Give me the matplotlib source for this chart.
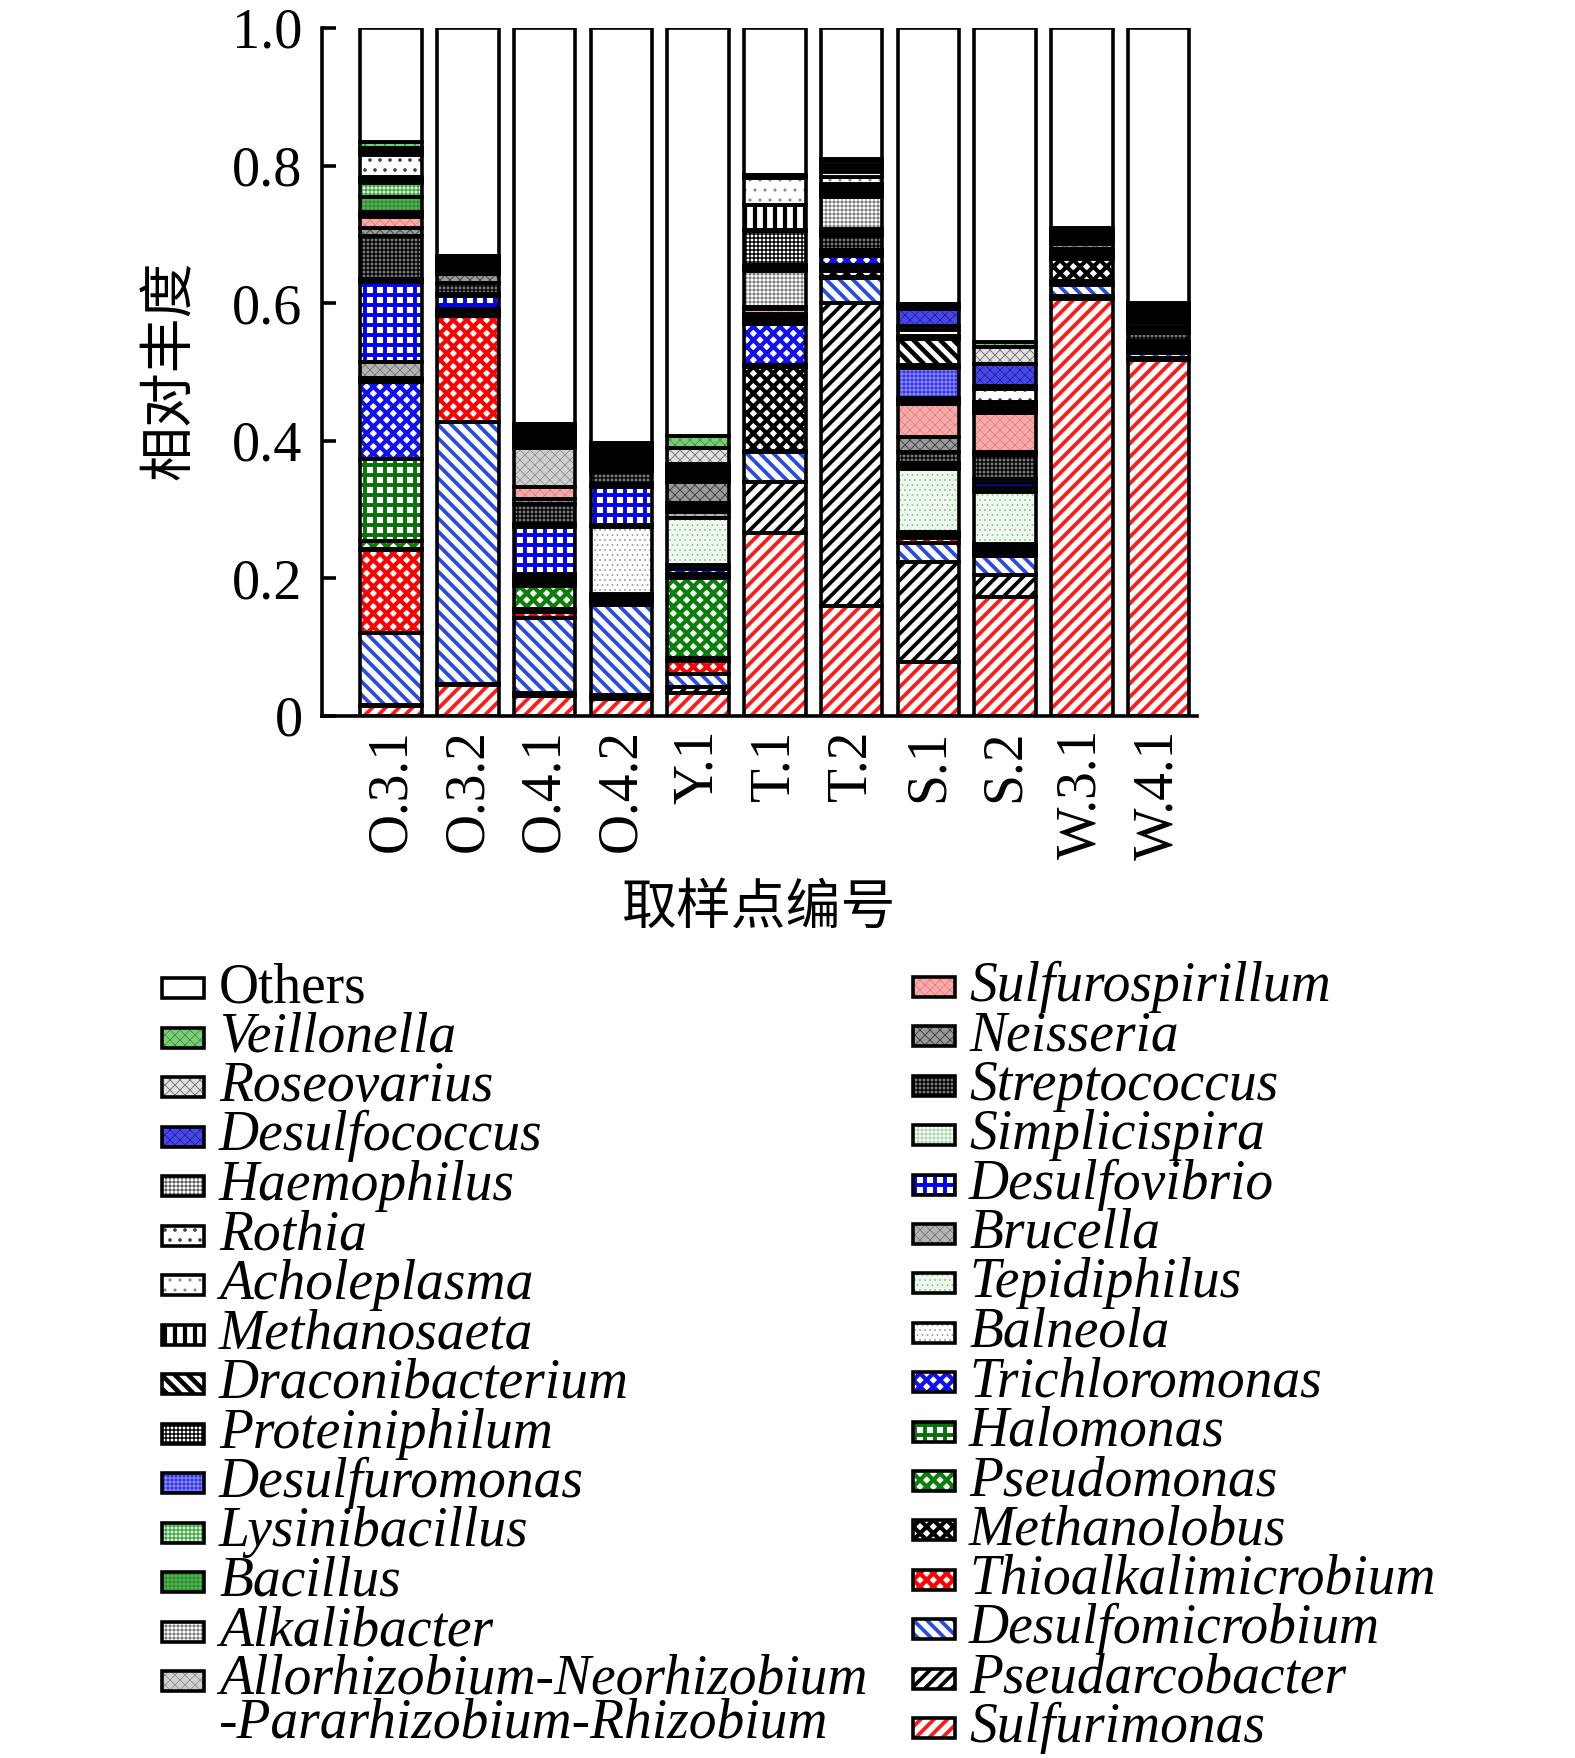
import numpy as np
import matplotlib
matplotlib.use("Agg")
import matplotlib.pyplot as plt
from matplotlib.patches import Rectangle

plt.rcParams['font.family'] = ['Liberation Serif', 'DejaVu Serif']

DPI = 120
S = 100.0 / DPI   # sizes below are written for 100 dpi, scaled here

samples = ["O.3.1", "O.3.2", "O.4.1", "O.4.2", "Y.1", "T.1", "T.2", "S.1", "S.2", "W.3.1", "W.4.1"]

# stacking order, bottom -> top
genera = ["Sulfurimonas", "Pseudarcobacter", "Desulfomicrobium", "Thioalkalimicrobium",
          "Methanolobus", "Pseudomonas", "Halomonas", "Trichloromonas", "Balneola",
          "Tepidiphilus", "Brucella", "Desulfovibrio", "Simplicispira", "Streptococcus",
          "Neisseria", "Sulfurospirillum", "Allorhizobium-Neorhizobium", "Alkalibacter",
          "Bacillus", "Lysinibacillus", "Desulfuromonas", "Proteiniphilum",
          "Draconibacterium", "Methanosaeta", "Acholeplasma", "Rothia", "Haemophilus",
          "Desulfococcus", "Roseovarius", "Veillonella", "Others"]

# relative abundance per sample, same order as genera
o31 = [0.014, 0.002, 0.104, 0.121, 0.002, 0.011, 0.120, 0.112, 0.003, 0.003, 0.022,
       0.117, 0.004, 0.063, 0.012, 0.016, 0.003, 0.003, 0.023, 0.020, 0.002, 0.002,
       0.001, 0.001, 0.002, 0.033, 0.003, 0.003, 0.003, 0.009, 0.166]
o32 = [0.045, 0.002, 0.381, 0.153, 0.002, 0.002, 0.002, 0.002, 0.001, 0.001, 0.001,
       0.018, 0.003, 0.016, 0.014, 0.002, 0.002, 0.002, 0.002, 0.002, 0.002, 0.002,
       0.001, 0.001, 0.001, 0.001, 0.001, 0.001, 0.002, 0.003, 0.332]
o41 = [0.029, 0.005, 0.109, 0.008, 0.004, 0.034, 0.004, 0.004, 0.003, 0.003, 0.003,
       0.069, 0.004, 0.029, 0.007, 0.018, 0.057, 0.002, 0.005, 0.003, 0.003, 0.003,
       0.003, 0.003, 0.003, 0.003, 0.002, 0.002, 0.002, 0.001, 0.575]
o42 = [0.025, 0.005, 0.132, 0.004, 0.003, 0.003, 0.003, 0.002, 0.097, 0.002, 0.002,
       0.055, 0.004, 0.017, 0.004, 0.003, 0.003, 0.003, 0.003, 0.003, 0.003, 0.002,
       0.002, 0.001, 0.004, 0.003, 0.003, 0.002, 0.002, 0.002, 0.603]
y1 = [0.034, 0.008, 0.019, 0.019, 0.005, 0.116, 0.006, 0.006, 0.007, 0.068, 0.009,
      0.004, 0.003, 0.006, 0.030, 0.003, 0.003, 0.003, 0.003, 0.003, 0.003, 0.003,
      0.001, 0.001, 0.001, 0.001, 0.001, 0.001, 0.023, 0.017, 0.593]
t1 = [0.266, 0.074, 0.043, 0.002, 0.122, 0.001, 0.002, 0.060, 0.001, 0.001, 0.001,
      0.004, 0.003, 0.002, 0.002, 0.007, 0.003, 0.053, 0.002, 0.002, 0.004, 0.050,
      0.002, 0.036, 0.039, 0.001, 0.001, 0.001, 0.001, 0.001, 0.213]
t2 = [0.160, 0.440, 0.036, 0.002, 0.009, 0.005, 0.004, 0.013, 0.002, 0.002, 0.002,
      0.002, 0.001, 0.019, 0.004, 0.005, 0.002, 0.047, 0.003, 0.003, 0.003, 0.004,
      0.003, 0.002, 0.011, 0.007, 0.005, 0.005, 0.005, 0.004, 0.190]
s1 = [0.078, 0.146, 0.028, 0.007, 0.002, 0.002, 0.002, 0.001, 0.001, 0.092, 0.003,
      0.004, 0.002, 0.016, 0.022, 0.048, 0.002, 0.002, 0.002, 0.002, 0.044, 0.004,
      0.038, 0.002, 0.002, 0.009, 0.006, 0.024, 0.004, 0.004, 0.401]
s2 = [0.173, 0.032, 0.028, 0.004, 0.003, 0.003, 0.003, 0.002, 0.002, 0.076, 0.005,
      0.008, 0.005, 0.036, 0.004, 0.056, 0.002, 0.002, 0.001, 0.001, 0.003, 0.002,
      0.002, 0.002, 0.002, 0.018, 0.004, 0.033, 0.024, 0.008, 0.456]
w31 = [0.606, 0.004, 0.017, 0.005, 0.032, 0.001, 0.001, 0.001, 0.000, 0.000, 0.001,
       0.002, 0.003, 0.006, 0.007, 0.004, 0.001, 0.001, 0.001, 0.001, 0.001, 0.002,
       0.001, 0.001, 0.001, 0.002, 0.002, 0.002, 0.002, 0.001, 0.291]
w41 = [0.517, 0.004, 0.006, 0.002, 0.002, 0.002, 0.002, 0.002, 0.002, 0.002, 0.002,
       0.001, 0.001, 0.011, 0.007, 0.002, 0.006, 0.005, 0.002, 0.002, 0.002, 0.003,
       0.002, 0.002, 0.002, 0.003, 0.003, 0.001, 0.001, 0.001, 0.400]

y_ticks = [0, 0.2, 0.4, 0.6, 0.8, 1.0]
y_ticklabels = ["0", "0.2", "0.4", "0.6", "0.8", "1.0"]

# (face, hatch, hatch colour, hatch linewidth at 100 dpi)
styles = {
    "Sulfurimonas": ("white", "///", "#ff1a1a", 2.7),
    "Pseudarcobacter": ("white", "///", "black", 2.7),
    "Desulfomicrobium": ("white", "\\\\\\", "#2a4be0", 2.7),
    "Thioalkalimicrobium": ("white", "xxx", "#ff0000", 3.0),
    "Methanolobus": ("white", "xxx", "black", 3.0),
    "Pseudomonas": ("white", "xxx", "#0a800a", 3.0),
    "Halomonas": ("white", "++", "#0a700a", 2.8),
    "Trichloromonas": ("white", "xxx", "#1010f0", 3.0),
    "Balneola": ("white", "....", "#9a9a9a", 0.6),
    "Tepidiphilus": ("#eef8ee", "....", "#8cc88c", 0.6),
    "Brucella": ("#b4b4b4", "xxxx", "#7a7a7a", 0.6),
    "Desulfovibrio": ("white", "++", "#0000ee", 2.8),
    "Simplicispira": ("white", "+++++", "#9ad29a", 0.6),
    "Streptococcus": ("#777777", "+++++", "black", 0.9),
    "Neisseria": ("#9a9a9a", "xxxx", "#444444", 0.7),
    "Sulfurospirillum": ("#f6aaaa", "xxxx", "#e48080", 0.6),
    "Allorhizobium-Neorhizobium": ("#cfcfcf", "xxxx", "#8a8a8a", 0.5),
    "Alkalibacter": ("white", "+++++", "#7a7a7a", 0.7),
    "Bacillus": ("#55b455", "+++++", "#2a8a2a", 0.7),
    "Lysinibacillus": ("#e6f5e6", "+++++", "#3aa83a", 0.9),
    "Desulfuromonas": ("#3535e6", "+++++", "#9a9aff", 0.6),
    "Proteiniphilum": ("white", "+++++", "black", 1.0),
    "Draconibacterium": ("white", "\\\\\\", "black", 3.3),
    "Methanosaeta": ("white", "||", "black", 3.0),
    "Acholeplasma": ("white", "..", "#8a8a8a", 0.8),
    "Rothia": ("white", "..", "#444444", 1.2),
    "Haemophilus": ("white", "+++++", "#555555", 0.7),
    "Desulfococcus": ("#4848e6", "xxxx", "#2020a8", 0.6),
    "Roseovarius": ("#e2e2e2", "xxxx", "#7a7a7a", 0.7),
    "Veillonella": ("#7ccc7c", "xxxx", "#3a9a3a", 0.6),
    "Others": ("white", "", "black", 1.0),
}

data = np.array([o31, o32, o41, o42, y1, t1, t2, s1, s2, w31, w41])
x = np.arange(len(samples))
bar_w = 0.8
edge_lw = 2.6 * S

fig = plt.figure(figsize=(1575 / DPI, 1758 / DPI), dpi=DPI)
ax = fig.add_axes([322 / 1575, 1 - 716 / 1758, 875 / 1575, 688 / 1758])

bottom = np.zeros(len(samples))
bottoms = []
for j, g in enumerate(genera):
    face, hatch, hc, hlw = styles[g]
    vals = data[:, j]
    with plt.rc_context({'hatch.linewidth': hlw * S}):
        bars = ax.bar(x, vals, bar_w, bottom=bottom, color=face, hatch=hatch or None,
                      edgecolor=hc, linewidth=0, zorder=2)
    for b in bars:
        if hasattr(b, 'set_hatch_linewidth'):
            b.set_hatch_linewidth(hlw * S)
    bottoms.append(bottom.copy())
    bottom = bottom + vals

# black outlines on top
for j, g in enumerate(genera):
    ax.bar(x, data[:, j], bar_w, bottom=bottoms[j], fill=False,
           edgecolor='black', linewidth=edge_lw, zorder=3)

ax.set_xlim(-0.9, 10.5)
ax.set_ylim(0, 1.0)
for s in ['top', 'right']:
    ax.spines[s].set_visible(False)
for s in ['left', 'bottom']:
    ax.spines[s].set_linewidth(edge_lw)
    ax.spines[s].set_zorder(4)
ax.set_yticks(y_ticks)
ax.set_yticklabels(y_ticklabels, fontsize=40.5 * S)
ax.set_xticks(x)
ax.set_xticklabels(samples, rotation=90, fontsize=40 * S)
ax.tick_params(axis='y', direction='in', length=10 * S, width=edge_lw, pad=14 * S)
ax.tick_params(axis='x', length=0, pad=9.5 * S)

fig.text(170 / 1575, 1 - 370 / 1758, "相对丰度", rotation=90, ha='center', va='center',
         fontsize=39.5 * S, family=['Noto Sans CJK SC'])
fig.text(759 / 1575, 1 - 908 / 1758, "取样点编号", ha='center', va='center',
         fontsize=39.5 * S, family=['Noto Sans CJK SC'])

# legend drawn by hand in two columns
legend_order = genera[::-1]
cols = [(legend_order[:15], 162, 219, 988, 49.5), (legend_order[15:], 913, 969, 987, 49.4)]
pw, ph = 42, 20
for names, px, tx, y0, step in cols:
    for i, g in enumerate(names):
        yc = y0 + step * i
        face, hatch, hc, hlw = styles[g]
        with plt.rc_context({'hatch.linewidth': hlw * S}):
            r = Rectangle((px / 1575, 1 - (yc + ph / 2) / 1758), pw / 1575, ph / 1758,
                          transform=fig.transFigure, facecolor=face, hatch=hatch or None,
                          edgecolor=hc, linewidth=0)
        if hasattr(r, 'set_hatch_linewidth'):
            r.set_hatch_linewidth(hlw * S)
        fig.add_artist(r)
        fig.add_artist(Rectangle((px / 1575, 1 - (yc + ph / 2) / 1758), pw / 1575, ph / 1758,
                                 transform=fig.transFigure, fill=False,
                                 edgecolor='black', linewidth=edge_lw))
        style = 'normal' if g == "Others" else 'italic'
        label = g
        base = yc + 14
        if g.startswith("Allorhizobium"):
            # two-line label: baseline refers to the last line
            label = g + "\n-Pararhizobium-Rhizobium"
            base = yc + 14 + 42.6
        fig.text(tx / 1575, 1 - base / 1758, label, fontsize=40 * S, style=style,
                 ha='left', va='baseline', linespacing=0.80)

fig.savefig("out.png", dpi=DPI)
